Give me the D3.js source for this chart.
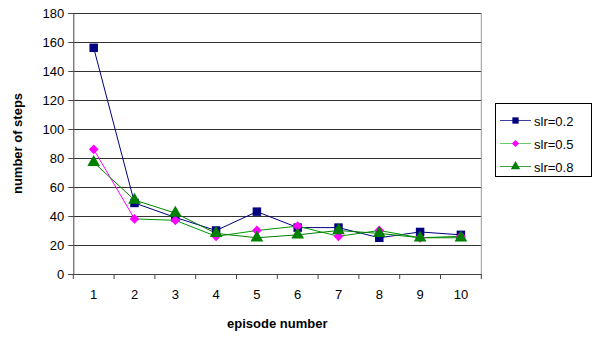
<!DOCTYPE html>
<html><head><meta charset="utf-8">
<script src="https://cdn.jsdelivr.net/npm/d3@7"></script>
<style>body{margin:0;background:#fff}svg{display:block}</style>
</head><body>
<svg id="c" width="595" height="338"></svg>
<script>
const episodes = [1,2,3,4,5,6,7,8,9,10];
const slr02 = [156,49,39,30,43,32,32,25,29,27];
const slr05 = [86,38,37,26,30,33,26,30,25,26];
const slr08 = [77,51,42,28,25,27,30,28,25,25];
const yTicks = [0,20,40,60,80,100,120,140,160,180];
const seriesNames = ["slr=0.2","slr=0.5","slr=0.8"];

const svg = d3.select("#c");
const L=73.3, R=481.3, T=13, B=274;
const font = "Liberation Sans, Arial, sans-serif";
const x = d3.scaleBand().domain(episodes).range([L,R]);
const y = d3.scaleLinear().domain([0,180]).range([B,T]);

// gridlines
svg.append("g").selectAll("line").data(yTicks.filter(d=>d>0)).join("line")
  .attr("x1",L).attr("x2",R).attr("y1",d=>Math.round(y(d))+0.5).attr("y2",d=>Math.round(y(d))+0.5)
  .attr("stroke","#333").attr("stroke-width",1);
svg.append("line").attr("x1",R).attr("x2",R).attr("y1",T).attr("y2",B).attr("stroke","#999");

// axes
const ya = d3.axisLeft(y).tickValues(yTicks).tickSize(5).tickPadding(4);
svg.append("g").attr("transform",`translate(${L},0)`).call(ya)
  .call(g=>g.selectAll("path,line").attr("stroke","#444"))
  .call(g=>g.selectAll("text").attr("font-family",font).attr("font-size",13).attr("fill","#000"));
const xa = d3.axisBottom(x).tickSize(0).tickPadding(16);
const gx = svg.append("g").attr("transform",`translate(0,${B})`).call(xa)
  .call(g=>g.select("path").attr("stroke","#444"))
  .call(g=>g.selectAll("text").attr("font-family",font).attr("font-size",13).attr("fill","#000"));
gx.append("g").selectAll("line").data(d3.range(episodes.length+1)).join("line")
  .attr("x1",i=>L+i*x.bandwidth()).attr("x2",i=>L+i*x.bandwidth())
  .attr("y1",0).attr("y2",5).attr("stroke","#444");

// titles
svg.append("text").attr("x",(L+R)/2).attr("y",328).attr("text-anchor","middle")
  .attr("font-family",font).attr("font-size",13).attr("font-weight","bold").text("episode number");
svg.append("text").attr("transform",`translate(22,${(T+B)/2}) rotate(-90)`).attr("text-anchor","middle")
  .attr("font-family",font).attr("font-size",13).attr("font-weight","bold").text("number of steps");

const cx = d => x(d)+x.bandwidth()/2;
const rhombus = {draw(ctx, size){const r=Math.sqrt(size)/2*1.15; ctx.moveTo(0,-r); ctx.lineTo(r,0); ctx.lineTo(0,r); ctx.lineTo(-r,0); ctx.closePath();}};
const series = [
  {name:seriesNames[0], vals:slr02, line:"#000080", first:"#000080", fill:"#000080", shape:d3.symbolSquare, size:72},
  {name:seriesNames[1], vals:slr05, line:"#009900", first:"#ff00ff", fill:"#ff00ff", shape:rhombus, size:72},
  {name:seriesNames[2], vals:slr08, line:"#008000", first:"#008000", fill:"#008000", shape:d3.symbolTriangle, size:70},
];
const lineGen = d3.line().x(d=>cx(d.e)).y(d=>y(d.v));
series.forEach(s=>{
  const pts = s.vals.map((v,i)=>({e:episodes[i],v}));
  svg.append("path").datum(pts.slice(0,2)).attr("d",lineGen).attr("fill","none").attr("stroke",s.first).attr("stroke-width",1);
  svg.append("path").datum(pts.slice(1)).attr("d",lineGen).attr("fill","none").attr("stroke",s.line).attr("stroke-width",1);
});
series.forEach(s=>{
  svg.append("g").selectAll("path").data(s.vals).join("path")
    .attr("d",d3.symbol().type(s.shape).size(s.size))
    .attr("transform",(d,i)=>`translate(${cx(episodes[i])},${y(d)})`)
    .attr("fill",s.fill);
});

// legend
const lg = svg.append("g");
lg.append("rect").attr("x",495.5).attr("y",103.5).attr("width",96).attr("height",73).attr("fill","#fff").attr("stroke","#000");
const legLine = ["#000080","#33bb33","#008000"];
series.forEach((s,i)=>{
  const yy = 120.5 + i*23;
  lg.append("line").attr("x1",500).attr("x2",531).attr("y1",yy).attr("y2",yy).attr("stroke",legLine[i]).attr("stroke-opacity",0.75);
  lg.append("path").attr("d",d3.symbol().type(s.shape).size(s.size*0.55)).attr("transform",`translate(515.5,${yy})`).attr("fill",s.fill);
  lg.append("text").attr("x",534).attr("y",yy+5).attr("font-family",font).attr("font-size",13).text(s.name);
});
</script>
</body></html>
